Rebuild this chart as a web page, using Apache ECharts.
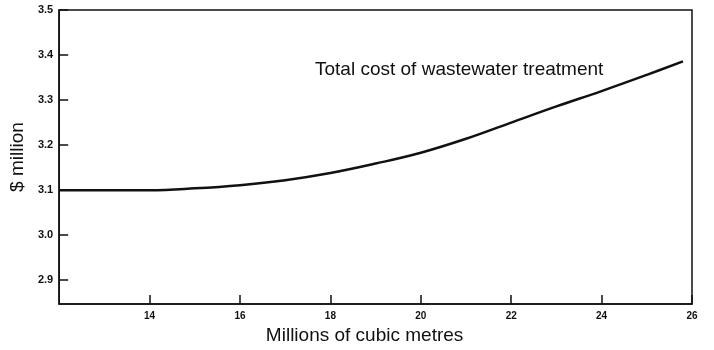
<!DOCTYPE html>
<html>
<head>
<meta charset="utf-8">
<script src="https://cdn.jsdelivr.net/npm/echarts@6/dist/echarts.min.js"></script>
<style>
html,body{margin:0;padding:0;background:#fff;}
#chart{width:714px;height:350px;}
</style>
</head>
<body>
<div id="chart"></div>
<script>
var volumes = [12, 13, 14, 15, 16, 17, 18, 19, 20, 21, 22, 23, 24, 25, 25.8];
var totalCost = [3.100, 3.100, 3.100, 3.104, 3.111, 3.122, 3.138, 3.159, 3.183, 3.214, 3.250, 3.286, 3.320, 3.356, 3.386];
var xTicks = [14, 16, 18, 20, 22, 24, 26];
var yTicks = [2.9, 3.0, 3.1, 3.2, 3.3, 3.4, 3.5];
var seriesName = 'Total cost of wastewater treatment';
var xName = 'Millions of cubic metres';
var yName = '$ million';

var chart = echarts.init(document.getElementById('chart'));
var font = '"Liberation Sans", Arial, Helvetica, sans-serif';
chart.setOption({
  animation: false,
  backgroundColor: '#fff',
  grid: {left: 59, right: 22, top: 10, bottom: 44, show: true, borderColor: '#111', borderWidth: 1.5},
  xAxis: {
    type: 'value', min: 12, max: 26,
    name: xName, nameLocation: 'middle', nameGap: 20,
    nameTextStyle: {fontFamily: font, fontSize: 19, color: '#111', padding: [0, 22, 0, 0]},
    axisLine: {show: true, lineStyle: {color: '#111', width: 1.5}},
    axisTick: {show: true, inside: true, length: 9, lineStyle: {color: '#111', width: 1.5}, customValues: xTicks},
    axisLabel: {customValues: xTicks, fontFamily: font, fontSize: 10, fontWeight: 'bold', color: '#111', margin: 7},
    splitLine: {show: false}
  },
  yAxis: {
    type: 'value', min: 2.847, max: 3.5,
    name: yName, nameLocation: 'middle', nameGap: 31, nameRotate: 90,
    nameTextStyle: {fontFamily: font, fontSize: 19, color: '#111'},
    axisLine: {show: true, lineStyle: {color: '#111', width: 1.5}},
    axisTick: {show: true, inside: true, length: 9, lineStyle: {color: '#111', width: 1.5}, customValues: yTicks},
    axisLabel: {customValues: yTicks, fontFamily: font, fontSize: 11, fontWeight: 'bold', color: '#111', margin: 6,
      formatter: function (v) { return v.toFixed(1); }},
    splitLine: {show: false}
  },
  graphic: [{
    type: 'text', left: 315, top: 60,
    style: {text: seriesName, fontFamily: font, fontSize: 19, fill: '#111'}
  }],
  series: [{
    type: 'line', name: seriesName,
    data: volumes.map(function (v, i) { return [v, totalCost[i]]; }),
    smooth: 0.4, showSymbol: false,
    lineStyle: {color: '#111', width: 2.5}
  }]
});
</script>
</body>
</html>
